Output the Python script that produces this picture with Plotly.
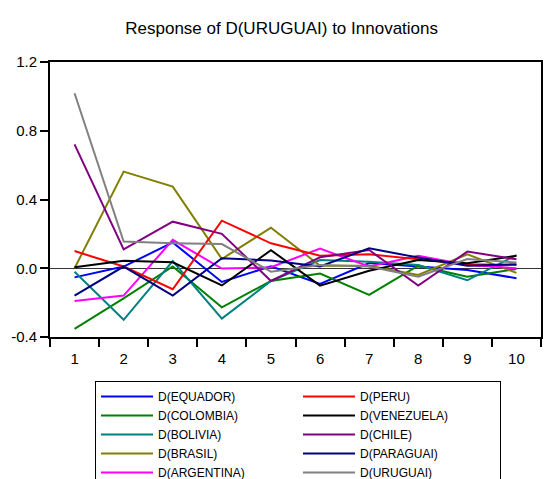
import plotly.graph_objects as go

periods = ["1", "2", "3", "4", "5", "6", "7", "8", "9", "10"]

equador   = [-0.053, 0.010, 0.150, -0.080, 0.012, -0.091, 0.030, 0.010, -0.010, -0.058]
colombia  = [-0.353, -0.175, 0.010, -0.227, -0.074, -0.031, -0.155, 0.015, -0.049, -0.004]
bolivia   = [-0.020, -0.300, 0.042, -0.293, -0.074, 0.048, 0.038, 0.019, -0.070, 0.077]
brasil    = [0.000, 0.562, 0.475, 0.054, 0.236, 0.015, 0.015, -0.039, 0.081, -0.027]
argentina = [-0.190, -0.159, 0.165, -0.002, 0.006, 0.114, 0.010, 0.073, 0.019, 0.000]
peru      = [0.100, 0.010, -0.122, 0.277, 0.145, 0.073, 0.081, 0.054, 0.023, 0.019]
venezuela = [0.006, 0.044, 0.035, -0.100, 0.105, -0.101, -0.015, 0.048, 0.029, 0.073]
chile     = [0.721, 0.110, 0.271, 0.200, -0.074, 0.064, 0.106, -0.101, 0.097, 0.052]
paraguai  = [-0.159, 0.010, -0.159, 0.058, 0.045, 0.010, 0.116, 0.062, 0.015, 0.023]
uruguai   = [1.018, 0.155, 0.145, 0.141, -0.020, 0.019, 0.010, -0.049, 0.054, 0.033]

y_tickvals = [-0.4, 0.0, 0.4, 0.8, 1.2]
y_ticktext = ["-0.4", "0.0", "0.4", "0.8", "1.2"]

series_names = ["D(EQUADOR)", "D(COLOMBIA)", "D(BOLIVIA)", "D(BRASIL)", "D(ARGENTINA)",
                "D(PERU)", "D(VENEZUELA)", "D(CHILE)", "D(PARAGUAI)", "D(URUGUAI)"]
series_values = [equador, colombia, bolivia, brasil, argentina,
                 peru, venezuela, chile, paraguai, uruguai]
series_colors = ["#0000FF", "#008000", "#008080", "#808000", "#FF00FF",
                 "#FF0000", "#000000", "#800080", "#000080", "#808080"]
# legend order: row-wise, left column = first five, right column = last five
legend_ranks = [1, 3, 5, 7, 9, 2, 4, 6, 8, 10]

FONT = "Liberation Sans"

fig = go.Figure()
for name, vals, col, rank in zip(series_names, series_values, series_colors, legend_ranks):
    fig.add_trace(go.Scatter(
        x=periods, y=vals, mode="lines", name=name,
        line=dict(color=col, width=2),
        legendrank=rank,
    ))

fig.update_layout(
    width=549, height=479,
    margin=dict(l=50, r=6, t=62, b=142),
    paper_bgcolor="white", plot_bgcolor="white",
    font=dict(family=FONT, size=15, color="black"),
    title=dict(text="Response of D(URUGUAI) to Innovations",
               x=0.513, xanchor="center", xref="container",
               y=1 - 28 / 479, yanchor="middle", yref="container",
               font=dict(family=FONT, size=17, color="black")),
    showlegend=True,
    legend=dict(
        orientation="h",
        xref="container", yref="container",
        x=95 / 549, xanchor="left",
        y=1 - 381 / 479, yanchor="top",
        entrywidth=135, entrywidthmode="pixels",
        bordercolor="black", borderwidth=1, bgcolor="white",
        font=dict(family=FONT, size=12, color="black"),
        itemwidth=52,
        traceorder="normal",
    ),
    xaxis=dict(
        type="category", range=[-0.5, 9.5],
        tickson="boundaries", ticks="outside", ticklen=8, tickwidth=1.5,
        tickcolor="black", ticklabelstandoff=7,
        showline=True, linecolor="black", linewidth=2, mirror=True,
        showgrid=False, zeroline=False,
        tickfont=dict(family=FONT, size=15),
    ),
    yaxis=dict(
        range=[-0.4, 1.2], tickvals=y_tickvals, ticktext=y_ticktext,
        ticks="outside", ticklen=8, tickwidth=1.5, tickcolor="black",
        showline=True, linecolor="black", linewidth=2, mirror=True,
        showgrid=False,
        zeroline=True, zerolinecolor="#333333", zerolinewidth=1,
        tickfont=dict(family=FONT, size=15),
    ),
)

fig.write_html("out.html", config={"displayModeBar": False},
               post_script="document.body.style.margin='0';")
